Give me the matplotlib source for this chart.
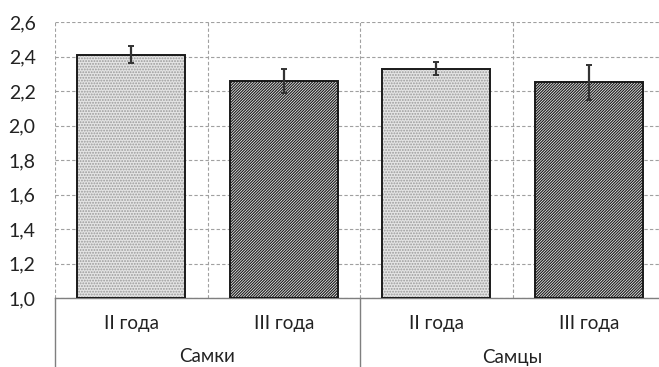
import matplotlib.pyplot as plt
import matplotlib.transforms as mtransforms
import numpy as np

plt.rcParams['font.family'] = ['Lato', 'DejaVu Sans']
plt.rcParams['hatch.linewidth'] = 0.9

# mean values and errors per age class within each sex
groups = ["Самки", "Самцы"]
ages = ["II года", "III года", "II года", "III года"]
means = [2.41, 2.26, 2.33, 2.25]
errors = [0.05, 0.07, 0.04, 0.10]
yticks = [1.0, 1.2, 1.4, 1.6, 1.8, 2.0, 2.2, 2.4, 2.6]

fig = plt.figure(figsize=(6.59, 3.67), dpi=100)
ax = fig.add_axes([55 / 659, 69 / 367, 610 / 659, 276 / 367])

x = np.arange(len(means))
width = 0.71
base = 1.0
heights = np.array(means) - base

# fills: fine dots for II, dense diagonal lines for III
fills = [("#e4e4e4", "#9a9a9a", "......"), ("white", "#222222", "/" * 12)]
for i in range(len(means)):
    fc, hc, hatch = fills[i % 2]
    ax.bar(x[i], heights[i], width, bottom=base, color=fc, edgecolor=hc,
           hatch=hatch, linewidth=0, zorder=2)
ax.bar(x, heights, width, bottom=base, fill=False, edgecolor="#1a1a1a",
       linewidth=1.4, zorder=3)
ax.errorbar(x, means, yerr=errors, fmt="none", ecolor="#333333",
            elinewidth=1.6, capsize=2, capthick=1.4, zorder=4)

ax.set_xlim(-0.5, 3.5)
ax.set_ylim(1.0, 2.6)
ax.set_yticks(yticks)
ax.set_yticklabels([f"{v:.1f}".replace(".", ",") for v in yticks])
ax.tick_params(axis="y", length=0, pad=14, labelsize=14, labelcolor="#222222")

# dashed grid: horizontal at ticks, vertical at category boundaries
ax.yaxis.grid(True, linestyle=(0, (3, 2)), color="#a0a0a0", linewidth=0.8, zorder=0)
for b in np.arange(-0.5, 3.6, 1.0):
    ax.axvline(b, color="#a0a0a0", linestyle=(0, (3, 2)), linewidth=0.8, zorder=0)

for s in ["top", "right", "left"]:
    ax.spines[s].set_visible(False)
ax.spines["bottom"].set_color("#7f7f7f")
ax.spines["bottom"].set_linewidth(1.0)

# two-level category axis
ax.set_xticks(x)
ax.set_xticklabels([])
ax.tick_params(axis="x", length=0)
trans = mtransforms.blended_transform_factory(ax.transData, ax.transAxes)
for xi, lab in zip(x, ages):
    ax.text(xi, -26 / 276, lab, transform=trans, ha="center", va="center",
            fontsize=13.5, color="#222222")
for gi, g in enumerate(groups):
    ax.text(2 * gi + 0.5, -59 / 276, g, transform=trans, ha="center",
            va="center", fontsize=13.5, color="#222222")
for b in [-0.5, 1.5, 3.5]:
    ax.plot([b, b], [0, -0.3], transform=trans, color="#7f7f7f",
            linewidth=1.0, clip_on=False)

fig.savefig("out.png", dpi=100, facecolor="white")
